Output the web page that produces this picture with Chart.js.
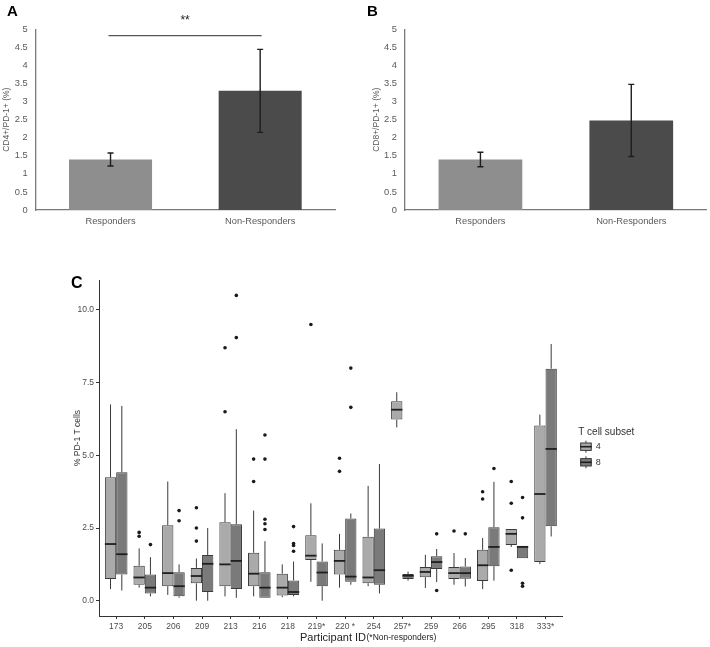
<!DOCTYPE html>
<html><head><meta charset="utf-8">
<script src="https://cdn.jsdelivr.net/npm/chart.js@4.4.0/dist/chart.umd.min.js"></script>
<style>
html,body{margin:0;padding:0;background:#fff;}
body{width:710px;height:647px;position:relative;overflow:hidden;}
canvas{position:absolute;}
</style></head><body>
<canvas id="cA" width="355" height="240" style="left:0;top:0"></canvas>
<canvas id="cB" width="355" height="240" style="left:355px;top:0"></canvas>
<canvas id="cC" width="710" height="407" style="left:0;top:240px"></canvas>
<script>
// ---------- Panels A & B ----------
const groups = ['Responders', 'Non-Responders'];
const cd4Mean = [1.40, 3.30];
const cd4Err  = [0.18, 1.15];
const cd8Mean = [1.40, 2.48];
const cd8Err  = [0.20, 1.00];
const sigLevel = 4.83;
const sigText = '**';

// ---------- Panel C ----------
const participants = ['173','205','206','209','213','216','218','219*','220 *','254','257*','259','266','295','318','333*'];
const yTicksC = [0, 2.5, 5, 7.5, 10];
const xTitleMain = 'Participant ID';
const xTitleNote = '(*Non-responders)';
const yTitleC = '% PD-1 T cells';
// T cell subset 4
const cd4Min = [0.40,0.45,0.20,0.00,0.15,0.15,0.12,0.65,0.45,0.50,5.96,0.44,0.55,0.40,1.85,1.26];
const cd4Q1  = [0.75,0.55,0.50,0.60,0.50,0.50,0.18,1.40,0.90,0.60,6.23,0.81,0.75,0.68,1.92,1.33];
const cd4Med = [1.95,0.80,0.95,0.85,1.25,0.93,0.45,1.55,1.37,0.80,6.57,0.99,0.95,1.22,2.30,3.67];
const cd4Q3  = [4.25,1.20,2.60,1.13,2.70,1.65,0.93,2.25,1.75,2.20,6.86,1.16,1.16,1.75,2.47,6.03];
const cd4Max = [6.75,1.80,4.10,1.45,3.70,3.10,1.25,3.35,2.30,3.95,7.17,1.58,1.64,2.16,2.47,6.40];
const cd4Out = [[],[2.22,2.35],[],[2.05,2.50,3.20],[6.50,8.70],[4.10,4.87],[],[9.50],[4.45,4.90],[],[],[],[2.40],[3.50,3.75],[1.05,3.35,4.10],[]];
// T cell subset 8
const cd8Min = [0.35,0.15,0.10,0.00,0.10,0.10,0.15,0.00,0.55,0.25,0.69,0.64,0.49,0.69,1.46,2.21];
const cd8Q1  = [0.90,0.25,0.15,0.30,0.40,0.10,0.20,0.50,0.65,0.55,0.75,1.09,0.76,1.19,1.46,2.56];
const cd8Med = [1.60,0.45,0.50,1.27,1.37,0.45,0.30,0.97,0.83,1.05,0.86,1.33,0.95,1.85,1.85,5.22];
const cd8Q3  = [4.42,0.90,0.98,1.57,2.63,0.98,0.70,1.35,2.83,2.48,0.92,1.53,1.18,2.53,1.89,7.98];
const cd8Max = [6.70,1.50,1.25,2.50,5.90,2.05,1.35,1.97,3.00,4.70,1.00,1.78,1.47,4.09,1.89,8.83];
const cd8Out = [[],[1.93],[2.75,3.10],[],[9.05,10.50],[2.45,2.65,2.80,4.87,5.70],[1.70,1.90,1.97,2.55],[],[6.65,8.00],[],[],[0.35,2.30],[2.30],[4.55],[0.50,0.60,2.85,3.55],[]];

const FONT = "'Liberation Sans', Arial, Helvetica, sans-serif";

const panelLabel = {
  id: 'panelLabel',
  afterDraw(chart, args, o) {
    const ctx = chart.ctx;
    ctx.save();
    ctx.font = 'bold ' + o.size + 'px ' + FONT;
    ctx.fillStyle = '#000';
    ctx.textBaseline = 'alphabetic';
    ctx.fillText(o.text, o.x, o.y);
    ctx.restore();
  }
};

const errBars = {
  id: 'errBars',
  afterDatasetsDraw(chart, args, o) {
    const ctx = chart.ctx, y = chart.scales.y;
    const meta = chart.getDatasetMeta(0);
    const vals = chart.data.datasets[0].data;
    ctx.save();
    ctx.strokeStyle = '#1e1e1e';
    ctx.lineWidth = 1.4;
    meta.data.forEach((bar, i) => {
      const yT = y.getPixelForValue(vals[i] + o.errors[i]);
      const yB = y.getPixelForValue(vals[i] - o.errors[i]);
      ctx.beginPath();
      ctx.moveTo(bar.x, yT); ctx.lineTo(bar.x, yB);
      ctx.moveTo(bar.x - 3, yT); ctx.lineTo(bar.x + 3, yT);
      ctx.moveTo(bar.x - 3, yB); ctx.lineTo(bar.x + 3, yB);
      ctx.stroke();
    });
    if (o.sig) {
      const x0 = chart.scales.x.getPixelForValue(0) - 2;
      const x1 = chart.scales.x.getPixelForValue(1) + 1.5;
      const ys = y.getPixelForValue(o.sig.level);
      ctx.strokeStyle = '#555';
      ctx.lineWidth = 1.4;
      ctx.beginPath(); ctx.moveTo(x0, ys); ctx.lineTo(x1, ys); ctx.stroke();
      ctx.fillStyle = '#222';
      ctx.font = '12px ' + FONT;
      ctx.textAlign = 'center';
      ctx.textBaseline = 'alphabetic';
      ctx.fillText(o.sig.text, (x0 + x1) / 2, ys - 12);
    }
    ctx.restore();
  }
};

function barChart(id, means, errs, yTitle, yWidth, titlePad, padRight, letter, sig) {
  return new Chart(document.getElementById(id), {
    type: 'bar',
    data: {
      labels: groups,
      datasets: [{
        data: means,
        backgroundColor: ['#8e8e8e', '#4b4b4b'],
        borderWidth: 0,
        barPercentage: 0.555,
        categoryPercentage: 1
      }]
    },
    options: {
      responsive: false, animation: false, devicePixelRatio: 1,
      layout: { padding: { left: 0, top: 29.5, right: padRight, bottom: 0 } },
      plugins: {
        legend: { display: false }, tooltip: { enabled: false },
        errBars: { errors: errs, sig: sig },
        panelLabel: letter
      },
      scales: {
        x: {
          grid: { display: false, drawTicks: false },
          border: { display: true, color: '#7a7a7a', width: 1.3 },
          ticks: { color: '#595959', font: { family: FONT, size: 9.3 }, padding: 6 },
          afterFit(s) { s.height = 30; }
        },
        y: {
          min: 0, max: 5,
          ticks: { stepSize: 0.5, color: '#595959', font: { family: FONT, size: 9.3 }, padding: 8, callback: v => String(v) },
          grid: { display: false, drawTicks: false },
          border: { display: true, color: '#7a7a7a', width: 1.3 },
          title: { display: true, text: yTitle, color: '#595959', font: { family: FONT, size: 8.5 }, padding: { top: titlePad, bottom: 0 } },
          afterFit(s) { s.width = yWidth; }
        }
      }
    },
    plugins: [errBars, panelLabel]
  });
}

barChart('cA', cd4Mean, cd4Err, 'CD4+/PD-1+ (%)', 35.7, 1.9, 20, { text: 'A', x: 7, y: 15.5, size: 15 }, { level: sigLevel, text: sigText });
barChart('cB', cd8Mean, cd8Err, 'CD8+/PD-1+ (%)', 50, 16.6, 3.3, { text: 'B', x: 12, y: 15.5, size: 15 }, null);

// ---------- Panel C: box plots ----------
const boxSeries = [
  { min: cd4Min, med: cd4Med, max: cd4Max, out: cd4Out },
  { min: cd8Min, med: cd8Med, max: cd8Max, out: cd8Out }
];

const boxExtras = {
  id: 'boxExtras',
  afterDatasetsDraw(chart) {
    const ctx = chart.ctx, y = chart.scales.y;
    ctx.save();
    boxSeries.forEach((s, d) => {
      const meta = chart.getDatasetMeta(d);
      const data = chart.data.datasets[d].data;
      meta.data.forEach((el, i) => {
        const x = el.x, w = el.width;
        const q1 = data[i].y[0], q3 = data[i].y[1];
        ctx.strokeStyle = '#3a3a3a';
        ctx.lineWidth = 1;
        ctx.beginPath();
        ctx.moveTo(x, y.getPixelForValue(q3)); ctx.lineTo(x, y.getPixelForValue(s.max[i]));
        ctx.moveTo(x, y.getPixelForValue(q1)); ctx.lineTo(x, y.getPixelForValue(s.min[i]));
        ctx.stroke();
        ctx.strokeStyle = '#1f1f1f';
        ctx.lineWidth = 1.8;
        const ym = y.getPixelForValue(s.med[i]);
        ctx.beginPath(); ctx.moveTo(x - w / 2, ym); ctx.lineTo(x + w / 2, ym); ctx.stroke();
        ctx.fillStyle = '#1a1a1a';
        s.out[i].forEach(v => {
          ctx.beginPath();
          ctx.arc(x, y.getPixelForValue(v), 1.8, 0, Math.PI * 2);
          ctx.fill();
        });
      });
    });
    ctx.restore();
  }
};

// axis titles of panel C (two font sizes, like the figure)
const titlesC = {
  id: 'titlesC',
  afterDraw(chart) {
    const ctx = chart.ctx, ca = chart.chartArea;
    ctx.save();
    ctx.fillStyle = '#222';
    ctx.textBaseline = 'alphabetic';
    ctx.textAlign = 'left';
    const xs = ca.left + 201;
    const yb = ca.bottom + 25;
    ctx.font = '11px ' + FONT;
    ctx.fillText(xTitleMain, xs, yb);
    const w = ctx.measureText(xTitleMain).width;
    ctx.font = '8.5px ' + FONT;
    ctx.fillText(xTitleNote, xs + w + 0.5, yb - 1);
    // y title
    ctx.translate(ca.left - 21, ca.top + 158);
    ctx.rotate(-Math.PI / 2);
    ctx.textAlign = 'center';
    ctx.textBaseline = 'middle';
    ctx.fillStyle = '#333';
    ctx.font = '8.5px ' + FONT;
    ctx.fillText(yTitleC, 0, 0);
    ctx.restore();
  }
};

const legendC = {
  id: 'legendC',
  afterDraw(chart, args, o) {
    const ctx = chart.ctx, ca = chart.chartArea;
    const x0 = ca.right + 15.5;
    const yT = ca.top + 152;
    ctx.save();
    ctx.fillStyle = '#333';
    ctx.font = '10px ' + FONT;
    ctx.textBaseline = 'middle';
    ctx.fillText(o.title, x0, yT);
    chart.data.datasets.forEach((ds, k) => {
      const cy = yT + 14.7 + k * 15.6;
      const bx = x0 + 2, bw = 11.5;
      ctx.strokeStyle = '#3a3a3a'; ctx.lineWidth = 1;
      ctx.beginPath();
      ctx.moveTo(bx + bw / 2, cy - 6); ctx.lineTo(bx + bw / 2, cy + 6); ctx.stroke();
      ctx.fillStyle = ds.backgroundColor;
      ctx.fillRect(bx, cy - 3.7, bw, 7.4);
      ctx.strokeRect(bx + 0.5, cy - 3.7, bw - 1, 7.4);
      ctx.strokeStyle = '#1f1f1f'; ctx.lineWidth = 1.6;
      ctx.beginPath(); ctx.moveTo(bx, cy); ctx.lineTo(bx + bw, cy); ctx.stroke();
      ctx.fillStyle = '#333';
      ctx.font = '9px ' + FONT;
      ctx.fillText(ds.label, bx + bw + 4, cy);
    });
    ctx.restore();
  }
};

new Chart(document.getElementById('cC'), {
  type: 'bar',
  data: {
    datasets: [
      { label: '4', data: participants.map((p, i) => ({ x: i, y: [cd4Q1[i], cd4Q3[i]] })),
        backgroundColor: '#aaaaaa', borderColor: '#3a3a3a', borderWidth: 1, borderSkipped: false,
        barPercentage: 1, categoryPercentage: 0.79 },
      { label: '8', data: participants.map((p, i) => ({ x: i, y: [cd8Q1[i], cd8Q3[i]] })),
        backgroundColor: '#7a7a7a', borderColor: '#3a3a3a', borderWidth: 1, borderSkipped: false,
        barPercentage: 1, categoryPercentage: 0.79 }
    ]
  },
  options: {
    responsive: false, animation: false, devicePixelRatio: 1,
    layout: { padding: { left: 66, right: 147.3, top: 40, bottom: 3 } },
    plugins: {
      legend: { display: false }, tooltip: { enabled: false },
      panelLabel: { text: 'C', x: 71, y: 48, size: 16 },
      legendC: { title: 'T cell subset' }
    },
    scales: {
      x: {
        type: 'linear', min: -0.6, max: 15.6, offset: false,
        afterBuildTicks(s) { s.ticks = participants.map((_, i) => ({ value: i })); },
        grid: { drawOnChartArea: false, offset: false, tickLength: 3, color: '#333', tickColor: '#333' },
        border: { display: true, color: '#333', width: 1 },
        ticks: { autoSkip: false, maxRotation: 0, padding: 3, color: '#4d4d4d', font: { family: FONT, size: 8.5 },
                 callback: v => participants[v] },
        afterFit(s) { s.height = 28; }
      },
      y: {
        min: -0.525, max: 11.03,
        afterBuildTicks(s) { s.ticks = yTicksC.map(v => ({ value: v })); },
        grid: { drawOnChartArea: false, tickLength: 3, color: '#333', tickColor: '#333' },
        border: { display: true, color: '#333', width: 1 },
        ticks: { padding: 2, color: '#4d4d4d', font: { family: FONT, size: 8.5 }, callback: v => v.toFixed(1) },
        afterFit(s) { s.width = 33; }
      }
    }
  },
  plugins: [boxExtras, panelLabel, legendC, titlesC]
});
</script>
</body></html>
